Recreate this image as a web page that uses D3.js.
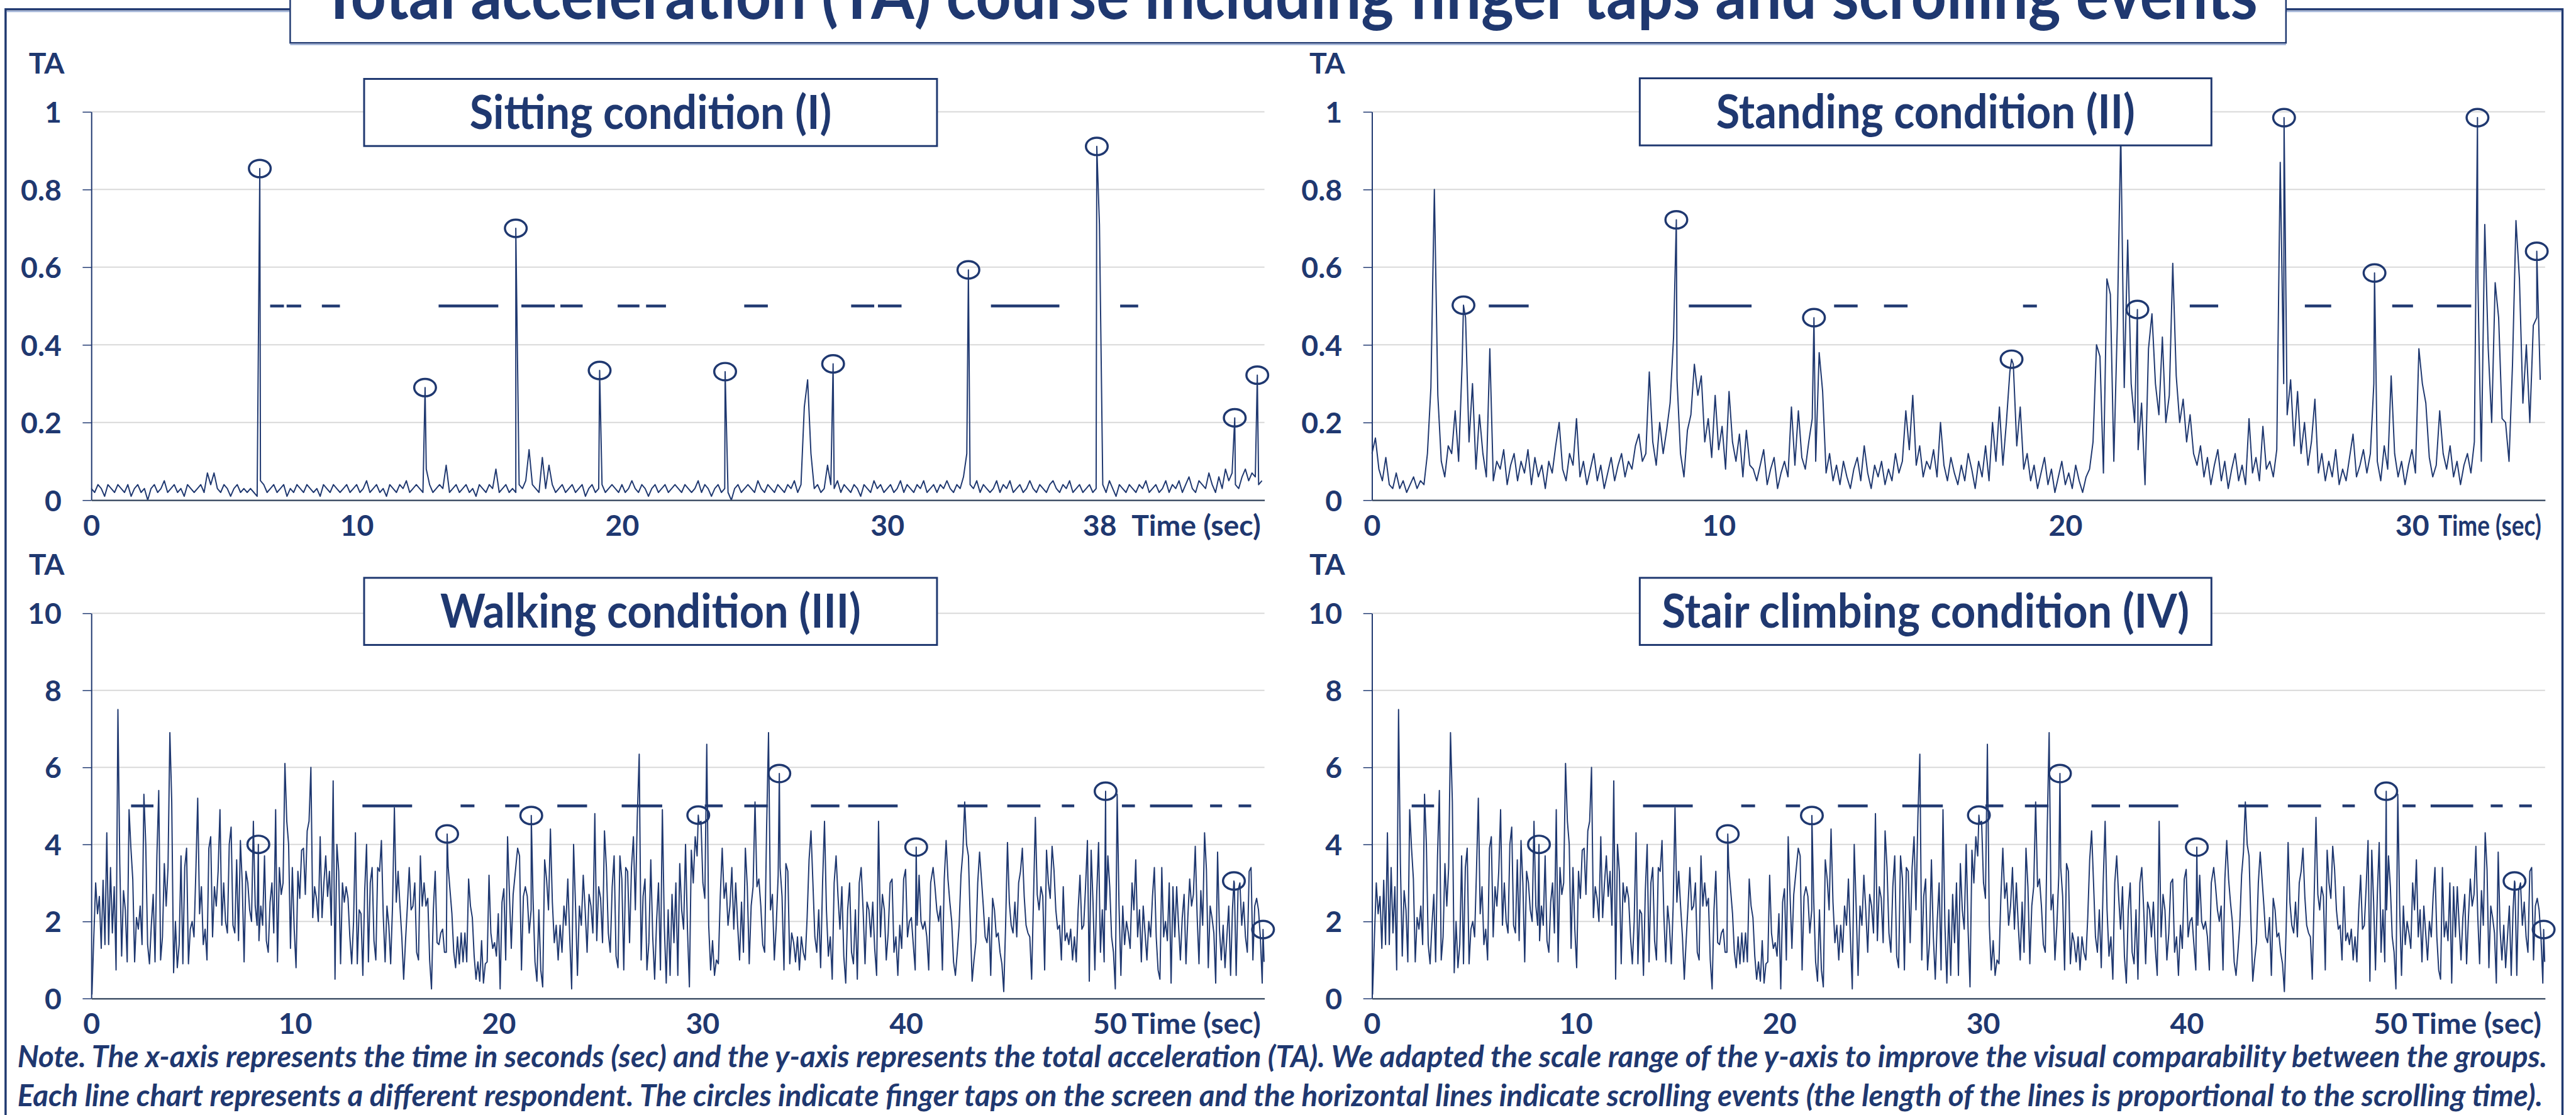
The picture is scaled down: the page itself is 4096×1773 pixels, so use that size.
<!DOCTYPE html>
<html>
<head>
<meta charset="utf-8">
<script src="https://cdn.jsdelivr.net/npm/d3@7"></script>
<style>
  body { margin: 0; background: #fff; overflow: hidden; }
  svg { display: block; }
</style>
</head>
<body>
<div id="viz"></div>
<script>
// ---------- data ----------
const chartTitle = 'Total acceleration (TA) course including finger taps and scrolling events';
const panelTitles = ['Sitting condition (I)', 'Standing condition (II)', 'Walking condition (III)', 'Stair climbing condition (IV)'];
const noteLines = [
  'Note. The x-axis represents the time in seconds (sec) and the y-axis represents the total acceleration (TA). We adapted the scale range of the y-axis to improve the visual comparability between the groups.',
  'Each line chart represents a different respondent. The circles indicate finger taps on the screen and the horizontal lines indicate scrolling events (the length of the lines is proportional to the scrolling time).'
];

const yTicksTop = [0, 0.2, 0.4, 0.6, 0.8, 1];
const yTicksBottom = [0, 2, 4, 6, 8, 10];
const sitTicks = [0, 10, 20, 30, 38];
const standTicks = [0, 10, 20, 30];
const walkTicks = [0, 10, 20, 30, 40, 50];

// sitting: one value every 0.125 s
const sitStep = 0.125;
const sitValues = [
0.03,0.02,0.04,0.03,0.01,0.04,0.03,0.02,0.04,0.03,0.02,0.04,0.01,0.03,0.04,0.02,
0.03,0.00,0.03,0.04,0.02,0.03,0.05,0.02,0.03,0.04,0.02,0.03,0.01,0.04,0.03,0.02,
0.03,0.04,0.02,0.07,0.04,0.07,0.03,0.02,0.04,0.03,0.01,0.03,0.04,0.02,0.03,0.02,
0.03,0.02,0.01,0.05,0.04,0.02,0.03,0.04,0.02,0.03,0.04,0.01,0.03,0.02,0.04,0.03,
0.02,0.04,0.03,0.02,0.03,0.01,0.04,0.03,0.02,0.04,0.03,0.02,0.03,0.04,0.02,0.03,
0.04,0.02,0.03,0.05,0.02,0.03,0.04,0.02,0.03,0.01,0.04,0.03,0.02,0.04,0.03,0.05,
0.02,0.03,0.04,0.03,0.02,0.08,0.04,0.02,0.03,0.04,0.03,0.09,0.02,0.03,0.04,0.02,
0.03,0.04,0.02,0.03,0.01,0.04,0.03,0.02,0.04,0.03,0.08,0.02,0.03,0.04,0.02,0.03,
0.02,0.04,0.03,0.05,0.13,0.04,0.03,0.02,0.11,0.03,0.09,0.04,0.02,0.03,0.04,0.02,
0.03,0.04,0.02,0.03,0.04,0.01,0.03,0.04,0.02,0.03,0.04,0.02,0.03,0.04,0.03,0.02,
0.04,0.02,0.03,0.05,0.03,0.02,0.04,0.03,0.01,0.03,0.04,0.02,0.03,0.04,0.02,0.03,
0.04,0.03,0.02,0.04,0.03,0.02,0.03,0.05,0.02,0.04,0.03,0.01,0.03,0.04,0.02,0.03,
0.02,0.00,0.03,0.04,0.02,0.03,0.04,0.03,0.02,0.05,0.03,0.02,0.04,0.03,0.02,0.04,
0.03,0.02,0.04,0.03,0.05,0.02,0.04,0.24,0.31,0.12,0.03,0.04,0.02,0.03,0.09,0.04,
0.03,0.05,0.02,0.04,0.03,0.02,0.04,0.03,0.01,0.04,0.03,0.02,0.05,0.03,0.04,0.02,
0.03,0.04,0.02,0.03,0.05,0.02,0.04,0.03,0.02,0.04,0.03,0.05,0.02,0.03,0.04,0.02,
0.04,0.03,0.05,0.03,0.02,0.04,0.03,0.06,0.12,0.04,0.03,0.05,0.02,0.04,0.03,0.02,
0.03,0.05,0.02,0.04,0.03,0.05,0.02,0.03,0.04,0.02,0.03,0.05,0.03,0.02,0.04,0.03,
0.02,0.04,0.05,0.03,0.02,0.04,0.03,0.05,0.02,0.03,0.04,0.02,0.03,0.04,0.02,0.03,
0.71,0.04,0.02,0.05,0.03,0.01,0.04,0.03,0.02,0.04,0.03,0.02,0.04,0.03,0.05,0.02,
0.03,0.04,0.02,0.03,0.05,0.02,0.04,0.03,0.05,0.02,0.04,0.06,0.03,0.02,0.05,0.04,
0.03,0.07,0.04,0.02,0.06,0.03,0.08,0.05,0.07,0.04,0.03,0.06,0.08,0.05,0.07,0.06,
0.04,0.05];
const sitTaps = [[6.35,0.854],[12.58,0.29],[16.0,0.70],[19.16,0.334],[23.89,0.331],[27.96,0.351],[33.06,0.593],[37.9,0.911],[43.1,0.212],[43.95,0.322]];
const sitScrolls = [[6.74,7.26],[7.36,7.91],[8.69,9.37],[13.09,15.34],[16.21,17.47],[17.68,18.52],[19.84,20.66],[20.91,21.66],[24.61,25.5],[28.64,29.51],[29.65,30.54],[33.91,36.49],[38.78,39.46]];

// standing: one value every 0.1 s
const standStep = 0.1;
const standValues = [
0.12,0.16,0.08,0.05,0.11,0.04,0.03,0.07,0.03,0.05,
0.02,0.04,0.06,0.03,0.05,0.04,0.12,0.29,0.80,0.27,
0.10,0.06,0.14,0.12,0.23,0.10,0.35,0.47,0.15,0.30,
0.08,0.22,0.12,0.06,0.39,0.05,0.10,0.08,0.13,0.04,
0.09,0.12,0.05,0.10,0.07,0.13,0.04,0.11,0.06,0.09,
0.03,0.10,0.07,0.14,0.20,0.08,0.05,0.12,0.09,0.21,
0.06,0.10,0.04,0.08,0.12,0.05,0.09,0.03,0.07,0.11,
0.05,0.09,0.12,0.06,0.10,0.08,0.14,0.17,0.10,0.12,
0.33,0.15,0.09,0.20,0.12,0.18,0.25,0.42,0.31,0.12,
0.06,0.18,0.22,0.35,0.27,0.32,0.15,0.21,0.11,0.27,
0.13,0.19,0.08,0.28,0.15,0.10,0.17,0.06,0.18,0.09,
0.08,0.05,0.09,0.13,0.04,0.08,0.11,0.03,0.07,0.10,
0.06,0.24,0.09,0.23,0.11,0.08,0.15,0.21,0.10,0.38,
0.28,0.07,0.12,0.05,0.09,0.04,0.10,0.06,0.03,0.08,
0.11,0.05,0.14,0.07,0.03,0.09,0.06,0.10,0.04,0.08,
0.05,0.12,0.07,0.10,0.23,0.13,0.27,0.09,0.14,0.06,
0.10,0.08,0.13,0.06,0.20,0.09,0.05,0.11,0.07,0.04,
0.09,0.05,0.12,0.08,0.03,0.10,0.06,0.14,0.05,0.20,
0.10,0.24,0.09,0.20,0.33,0.35,0.14,0.24,0.08,0.12,
0.05,0.09,0.03,0.07,0.11,0.04,0.08,0.02,0.06,0.10,
0.04,0.07,0.03,0.09,0.05,0.02,0.06,0.08,0.15,0.40,
0.37,0.07,0.57,0.53,0.10,0.45,0.95,0.29,0.67,0.30,
0.20,0.13,0.25,0.04,0.39,0.48,0.30,0.22,0.42,0.20,
0.27,0.61,0.32,0.20,0.26,0.15,0.22,0.12,0.09,0.14,
0.06,0.11,0.04,0.09,0.13,0.05,0.10,0.03,0.08,0.12,
0.05,0.09,0.04,0.21,0.07,0.11,0.05,0.19,0.08,0.10,
0.06,0.13,0.87,0.30,0.22,0.31,0.14,0.28,0.12,0.20,
0.09,0.15,0.26,0.07,0.12,0.05,0.10,0.06,0.13,0.04,
0.08,0.05,0.11,0.17,0.06,0.09,0.13,0.07,0.12,0.30,
0.10,0.05,0.14,0.08,0.32,0.12,0.06,0.10,0.04,0.09,
0.13,0.07,0.39,0.30,0.25,0.11,0.06,0.09,0.23,0.12,
0.08,0.14,0.06,0.10,0.04,0.09,0.12,0.07,0.15,0.57,
0.10,0.71,0.39,0.20,0.56,0.47,0.21,0.20,0.10,0.35,
0.72,0.57,0.25,0.40,0.20,0.45,0.47,0.31];
const standTaps = [[2.64,0.502],[8.78,0.722],[12.75,0.47],[18.45,0.363],[22.08,0.491],[26.31,0.985],[28.92,0.585],[31.89,0.985],[33.6,0.641]];
const standScrolls = [[3.37,4.52],[9.14,10.95],[13.33,14.01],[14.77,15.45],[18.78,19.18],[23.59,24.41],[26.91,27.67],[29.43,30.03],[30.72,31.71]];

// walking (also shown for stair climbing): three stretches, values evenly spaced in each
const walkA = [
0.1,1.6,3.0,2.2,2.65,1.3,3.07,1.4,4.3,1.4,
3.4,1.7,2.9,0.74,7.5,3.5,1.1,2.8,2.3,0.95,
4.9,3.9,3.1,0.95,2.1,1.8,2.4,1.4,5.3,4.0,
1.4,0.9,1.9,2.7,0.95,3.7,5.4,1.0,1.6,3.5,
2.4,3.4,6.9,5.1,0.67,2.0,0.8,1.4,3.7,0.9,
3.4,3.9,0.9,1.8,2.0,1.6,3.3,5.2,2.2,2.9,
1.4,1.8,1.0,3.9,4.2,1.6,2.9,2.4,3.3,4.9,
1.9,3.0,2.0,1.7,4.0,4.45,1.9,1.7,3.6,1.5,
4.1,3.0,0.95,3.3,3.0,2.3,2.0,4.6,2.4,1.9,
1.5,2.4,1.9,3.7,1.5,1.2,2.5,3.0,1.7,4.9,
0.95,3.4,2.7,3.0,6.1,4.6,4.0,1.3,3.4,1.8,
0.8,3.3,2.6,3.85,3.9,2.7,4.35,4.6,6.0,2.1,
2.9,2.6,2.0,4.2,2.1,3.0,3.7,2.65,3.3,1.9,
5.65,0.5,4.0,3.3,0.9,3.0,2.5,2.9,2.6,1.6,
0.9,2.0,4.3,0.9,2.3,2.2,0.6,2.8,4.0,0.95,
3.0,3.4,1.5,1.0,3.4,3.3,4.1,2.15,0.95,2.4,
1.9,0.9,2.4,4.95,2.5,3.3,2.4,1.6,0.5,1.5,
2.4,3.4,2.3,2.4,3.0,1.2,1.0,3.7,2.4,3.0,
2.4,2.6,1.0,0.25,2.3,3.3,1.45,1.4,1.7,1.8,
1.2,1.2,3.4,2.8,2.2,1.2,0.8,1.6,0.9,1.7,
0.95,1.7,0.95,3.1,2.4,2.1,1.1,0.5,0.95,0.45,
1.5,0.4,0.9,0.95,3.2,1.7,1.3,1.45,1.1,2.2,
0.25,2.5,2.85,1.0,4.2,2.7,1.3,2.7];
const walkB = [
3.9,3.7,0.74,2.65,2.9,2.65,1.7,2.3,2.6,0.95,
0.45,2.3,0.74,0.3,3.6,3.1,2.3,4.4,2.5,1.45,
1.9,1.0,1.9,1.2,2.4,1.9,3.1,1.6,0.25,4.0,
2.4,0.6,2.4,1.9,3.2,2.3,1.2,2.7,2.4,1.7,
4.8,1.5,2.9,2.6,1.45,4.35,3.4,1.7,1.2,2.9,
3.7,1.1,0.8,3.7,3.1,0.74,3.4,3.3,1.45,3.4,
4.2,2.3,4.7,6.34,1.0,2.65,3.1,0.74,1.45,3.6,
1.6,0.5,2.0,3.0,0.74,4.9,1.9,0.4,2.3,0.6,
2.7,1.45,3.0,0.6,3.5,2.3,1.8,4.0,1.8,0.3,
3.85,3.0,4.2,3.7,4.55,4.6,3.0,2.6,6.6,1.9,
0.74,1.5,0.6,1.0,0.9,2.65,3.9,2.6,3.0,1.9,
2.4,3.4,1.8,3.0,1.9,1.0,2.5,1.2,3.9,2.9,
0.9,2.4,2.9,5.1,2.9,3.1,2.4,1.4,1.2,4.4,
6.9,2.3,2.7,1.0,1.9,3.2,3.4,2.65,0.74,3.5,
3.3,0.9,1.7,1.45,0.95,1.6,0.74,1.6,1.2,1.0,
2.1,3.6,4.35,3.0,1.6,1.2,2.3,0.8,3.0,4.6,
2.3,1.1,1.6,0.5,3.0,3.7,2.65,1.8,2.9,1.1,
0.4,2.3,3.0,1.2,0.9,2.3,0.5,3.0,3.4,2.3,
0.9,2.5,2.3,1.6,2.5,1.3,0.6,4.6,1.6,2.7,
2.3,1.0,1.7,3.0,3.1,1.2,1.6,0.6,1.9,1.3,
3.1,3.35,1.6,2.0,2.1,1.4,0.74,1.9,3.2,2.0,
1.8,2.0,1.6,0.74,3.0];
const walkC = [
3.4,2.9,2.3,2.0,2.4,0.74,3.1,4.1,3.1,2.5,
2.0,0.95,0.6,1.2,1.9,3.2,3.8,5.1,4.0,3.7,
2.0,0.45,1.0,1.45,3.0,3.8,3.1,2.4,1.6,1.45,
2.1,0.6,2.6,2.3,1.6,1.7,1.2,0.9,0.18,1.9,
4.05,2.5,1.9,1.7,2.5,1.6,3.0,3.3,3.9,2.65,
1.9,1.7,1.6,0.5,2.6,4.7,2.7,2.3,2.9,2.65,
0.74,3.85,3.0,2.6,3.95,3.35,2.3,1.8,1.9,1.0,
2.9,1.5,1.7,1.4,1.8,1.0,1.6,0.95,2.3,3.2,
1.8,1.9,2.9,4.1,0.45,3.85,2.5,0.74,2.7,4.05,
1.2,2.3,0.95,2.3,3.7,2.9,1.6,1.2,0.25,5.3,
2.4,0.6,2.4,1.4,2.0,1.7,1.3,3.0,2.3,3.6,
1.6,2.3,0.95,2.4,1.7,1.0,2.0,1.6,2.65,3.4,
1.6,0.74,0.5,3.4,1.6,2.0,1.5,3.0,0.4,2.9,
1.6,2.9,1.9,1.0,2.1,2.7,0.9,2.1,3.1,2.4,
2.7,3.95,2.15,0.9,2.8,1.9,4.3,3.35,0.8,2.4,
2.1,1.7,0.4,3.8,1.8,1.0,1.9,0.8,1.6,2.4,
0.6,2.3,3.0,0.6,2.8,3.0,1.9,2.5,1.6,1.2,
3.3,3.4,1.0,2.4,2.6,2.3,1.6,0.4,0.95];
const walkParts = [[0.03, 20.71, walkA], [20.93, 41.21, walkB], [41.33, 57.58, walkC]];
const walkTaps = [[8.2,4.0],[17.47,4.27],[21.6,4.75],[29.8,4.76],[33.78,5.84],[40.5,3.93],[49.8,5.38],[56.1,3.05],[57.53,1.79]];
const walkScrolls = [[1.95,3.05],[13.31,15.75],[18.13,18.81],[20.32,21.02],[22.88,24.34],[26.04,28.03],[30.12,31.0],[32.06,33.22],[35.33,36.73],[37.16,39.59],[42.53,44.0],[44.97,46.6],[47.65,48.26],[50.6,51.24],[51.98,54.07],[54.93,55.52],[56.33,56.95]];

// ---------- setup ----------
const W = 4096, H = 1773, K = 0.988;
const navy = '#1F3870';
const FONT = 'Lato, "Open Sans", sans-serif';
const PW = 1888;
const TALL = 1.08; // headings a bit taller, then squeezed back to their width

const svg = d3.select('#viz').append('svg').attr('width', W).attr('height', H);
svg.append('rect').attr('width', W).attr('height', H).attr('fill', '#fff');
const root = svg.append('g').attr('transform', `scale(${K})`);

const measure = (txt, style) => {
  const t = svg.append('text').attr('font-family', FONT).attr('font-weight', 700)
    .attr('font-style', style || 'normal').attr('font-size', 100).text(txt);
  const w = t.node().getComputedTextLength();
  t.remove();
  return w;
};
const fit = (txt, target, style) => 100 * target / measure(txt, style);

const titleFs = fit(chartTitle, 3117);
const boxFs = fit(panelTitles[2], 677);
const tickFs = fit('Time (sec)', 208);
const noteFs = fit(noteLines[0], 4072, 'italic');

const regular = (vals, dt) => vals.map((v, i) => [i * dt, v]);
const spread = parts => parts.flatMap(([t0, t1, vals]) =>
  vals.map((v, i) => [t0 + i * (t1 - t0) / (vals.length - 1), v]));
const withTaps = (pts, taps) => pts.concat(taps).sort((a, b) => a[0] - b[0]);

const walkPoints = withTaps(spread(walkParts), walkTaps);

const panels = [
  { title: panelTitles[0], left: 147, top: 180, bottom: 805, yMax: 1, yTicks: yTicksTop,
    xMax: 44.22, xTicks: sitTicks, points: withTaps(regular(sitValues, sitStep), sitTaps),
    taps: sitTaps, scrolls: sitScrolls, level: 0.5, box: [586, 127, 922], squeeze: 0 },
  { title: panelTitles[1], left: 2208, top: 180, bottom: 805, yMax: 1, yTicks: yTicksTop,
    xMax: 33.84, xTicks: standTicks, points: withTaps(regular(standValues, standStep), standTaps),
    taps: standTaps, scrolls: standScrolls, level: 0.5, box: [2639, 126, 920], squeeze: 166 },
  { title: panelTitles[2], left: 147, top: 987, bottom: 1607, yMax: 10, yTicks: yTicksBottom,
    xMax: 57.6, xTicks: walkTicks, points: walkPoints,
    taps: walkTaps, scrolls: walkScrolls, level: 5, box: [586, 930, 922], squeeze: 0 },
  { title: panelTitles[3], left: 2208, top: 987, bottom: 1607, yMax: 10, yTicks: yTicksBottom,
    xMax: 57.6, xTicks: walkTicks, points: walkPoints,
    taps: walkTaps, scrolls: walkScrolls, level: 5, box: [2639, 930, 920], squeeze: 0 }
];

// outer frame
root.append('rect').attr('x', 9).attr('y', 15).attr('width', 4115).attr('height', 1900)
  .attr('fill', 'none').attr('stroke', navy).attr('stroke-width', 3.5);
root.append('line').attr('x1', 11).attr('x2', 4122).attr('y1', 18.5).attr('y2', 18.5)
  .attr('stroke', '#9DB0D6').attr('stroke-width', 2);

// ---------- panels ----------
panels.forEach(p => {
  const g = root.append('g');
  const x = d3.scaleLinear().domain([0, p.xMax]).range([p.left, p.left + PW]);
  const y = d3.scaleLinear().domain([0, p.yMax]).range([p.bottom, p.top]);

  g.selectAll('line.grid').data(p.yTicks.slice(1)).join('line')
    .attr('class', 'grid')
    .attr('x1', p.left).attr('x2', p.left + PW)
    .attr('y1', d => y(d)).attr('y2', d => y(d))
    .attr('stroke', '#D9D9D9').attr('stroke-width', 2);

  g.append('path').datum(p.points)
    .attr('d', d3.line().x(d => x(d[0])).y(d => y(d[1])))
    .attr('fill', 'none').attr('stroke', navy).attr('stroke-width', 2)
    .attr('stroke-linejoin', 'round');

  g.selectAll('line.scroll').data(p.scrolls).join('line')
    .attr('class', 'scroll')
    .attr('x1', d => x(d[0])).attr('x2', d => x(d[1]))
    .attr('y1', y(p.level)).attr('y2', y(p.level))
    .attr('stroke', navy).attr('stroke-width', 4.5);

  g.selectAll('ellipse').data(p.taps).join('ellipse')
    .attr('cx', d => x(d[0])).attr('cy', d => y(d[1]))
    .attr('rx', 17.5).attr('ry', 14)
    .attr('fill', 'none').attr('stroke', navy).attr('stroke-width', 3.5);

  // y axis
  const ya = g.append('g').attr('transform', `translate(${p.left},0)`)
    .call(d3.axisLeft(y).tickValues(p.yTicks).tickSize(14).tickSizeOuter(0)
      .tickPadding(34).tickFormat(d3.format('~g')));
  ya.select('.domain').attr('stroke', navy).attr('stroke-width', 2);
  ya.selectAll('.tick line').attr('stroke', navy).attr('stroke-width', 1.5);
  ya.selectAll('.tick text').attr('fill', navy).attr('font-family', FONT)
    .attr('font-weight', 700).attr('font-size', tickFs).attr('dy', '0.36em');

  // x axis
  const xa = g.append('g').attr('transform', `translate(0,${p.bottom})`)
    .call(d3.axisBottom(x).tickValues(p.xTicks).tickSize(0).tickSizeOuter(0));
  xa.select('.domain').attr('stroke', '#44546A').attr('stroke-width', 2.5);
  xa.selectAll('.tick text').attr('fill', navy).attr('font-family', FONT)
    .attr('font-weight', 700).attr('font-size', tickFs).attr('y', 40).attr('dy', '0.36em');

  const unit = g.append('text').attr('x', p.left + PW - 6).attr('y', p.bottom + 40).attr('dy', '0.36em')
    .attr('text-anchor', 'end').attr('fill', navy).attr('font-family', FONT)
    .attr('font-weight', 700).attr('font-size', tickFs).text('Time (sec)');
  if (p.squeeze) unit.attr('textLength', p.squeeze).attr('lengthAdjust', 'spacingAndGlyphs');

  g.append('text').attr('x', p.left - 72).attr('y', p.top - 62)
    .attr('text-anchor', 'middle').attr('fill', navy).attr('font-family', FONT)
    .attr('font-weight', 700).attr('font-size', tickFs).text('TA');

  // panel title box
  const [bx, by, bw] = p.box;
  g.append('rect').attr('x', bx).attr('y', by).attr('width', bw).attr('height', 108)
    .attr('fill', '#fff').attr('stroke', navy).attr('stroke-width', 3);
  const natural = measure(p.title) * boxFs / 100;
  g.append('text').attr('x', bx + bw / 2).attr('y', by + 80)
    .attr('text-anchor', 'middle').attr('fill', navy).attr('font-family', FONT)
    .attr('font-weight', 700).attr('font-size', boxFs * TALL)
    .attr('textLength', natural).attr('lengthAdjust', 'spacingAndGlyphs').text(p.title);
});

// ---------- main title ----------
root.append('rect').attr('x', 467).attr('y', -20).attr('width', 3212).attr('height', 89)
  .attr('fill', '#fff').attr('stroke', navy).attr('stroke-width', 2.5);
root.append('line').attr('x1', 467).attr('x2', 3679).attr('y1', 71.5).attr('y2', 71.5)
  .attr('stroke', '#9DB0D6').attr('stroke-width', 2);
root.append('text').attr('x', 2075).attr('y', 30).attr('text-anchor', 'middle')
  .attr('fill', navy).attr('font-family', FONT).attr('font-weight', 700)
  .attr('font-size', titleFs * TALL).attr('textLength', 3117)
  .attr('lengthAdjust', 'spacingAndGlyphs').text(chartTitle);

// ---------- note ----------
root.selectAll('text.note').data(noteLines).join('text')
  .attr('class', 'note')
  .attr('x', 28).attr('y', (d, i) => 1718 + i * 62)
  .attr('fill', navy).attr('font-family', FONT).attr('font-weight', 700)
  .attr('font-style', 'italic').attr('font-size', noteFs).text(d => d);
</script>
</body>
</html>
